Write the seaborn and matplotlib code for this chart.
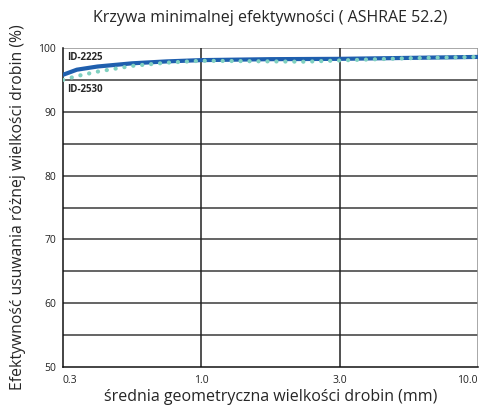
import matplotlib
matplotlib.use("Agg")
import matplotlib.pyplot as plt
import seaborn as sns
import pandas as pd
import numpy as np

sns.set_style("white")
plt.rcParams['font.family'] = ['Open Sans', 'DejaVu Sans']

# x positions on the equal-spaced axis (0 -> 0.3, 1 -> 1.0, 2 -> 3.0, 3 -> 10.0)
x_tick_labels = ["0.3", "1.0", "3.0", "10.0"]
y_ticks = [50, 60, 70, 80, 90, 100]

x_2225 = [0.0, 0.1, 0.25, 0.5, 0.75, 1.0, 1.5, 2.0, 2.5, 3.0]
y_2225 = [95.8, 96.6, 97.1, 97.6, 97.9, 98.1, 98.25, 98.3, 98.45, 98.6]

x_2530 = [0.0, 0.1, 0.25, 0.5, 0.75, 1.0, 1.5, 1.75, 2.0, 2.5, 3.0]
y_2530 = [95.0, 95.6, 96.3, 97.2, 97.7, 98.0, 97.9, 97.85, 98.05, 98.4, 98.6]

df = pd.concat([
    pd.DataFrame({"x": x_2225, "y": y_2225, "s": "ID-2225"}),
    pd.DataFrame({"x": x_2530, "y": y_2530, "s": "ID-2530"}),
])

fig = plt.figure(figsize=(4.81, 4.05), dpi=100)
ax = fig.add_axes([63/481, 38/405, 415/481, 319/405])

# grid
for v in np.arange(55, 100, 5):
    ax.axhline(v, color="#3a3a3a", lw=1.1, zorder=1)
ax.axhline(100, color="#999999", lw=1.2, zorder=1)
for xv in [1, 2]:
    ax.axvline(xv, color="#222222", lw=1.1, zorder=1)
ax.axvline(3, color="#999999", lw=1.2, zorder=1)

sns.lineplot(data=df[df.s == "ID-2225"], x="x", y="y", ax=ax, color="#1f5fae",
             lw=3.0, legend=False, zorder=3)
sns.lineplot(data=df[df.s == "ID-2530"], x="x", y="y", ax=ax, color="#7fd0c0",
             lw=3.0, ls=(0, (0.05, 2.1)), dash_capstyle="round", legend=False, zorder=4)

ax.set_xlim(0, 3)
ax.set_ylim(50, 100)
ax.set_xticks(range(4))
ax.set_xticklabels(x_tick_labels, fontsize=7.5, color="#222222")
ax.set_yticks(y_ticks)
ax.set_yticklabels([str(v) for v in y_ticks], fontsize=7.5, color="#222222")
labs = ax.get_xticklabels()
labs[0].set_ha("left")
labs[-1].set_ha("right")
ax.tick_params(axis="both", length=0, pad=6)
ax.tick_params(axis="y", pad=5)

for side in ["top", "right"]:
    ax.spines[side].set_visible(False)
for side in ["left", "bottom"]:
    ax.spines[side].set_color("#111111")
    ax.spines[side].set_linewidth(1.1)

ax.text(0.03, 99.4, "ID-2225", fontsize=7, fontweight="bold", va="top", ha="left")
ax.text(0.03, 94.4, "ID-2530", fontsize=7, fontweight="bold", va="top", ha="left")

ax.set_xlabel("średnia geometryczna wielkości drobin (mm)", fontsize=11.5, labelpad=2)
ax.set_ylabel("Efektywność usuwania różnej wielkości drobin (%)", fontsize=11.3, labelpad=9)
fig.text(270/481, 1 - 18/405, "Krzywa minimalnej efektywności ( ASHRAE 52.2)",
         fontsize=11.5, ha="center", va="center")

fig.savefig("out.png", dpi=100)
